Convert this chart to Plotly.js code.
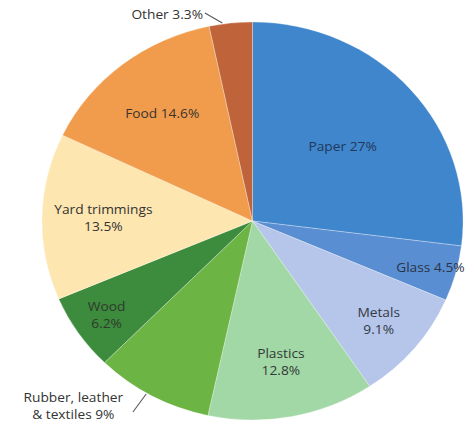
<!DOCTYPE html>
<html>
<head>
<meta charset="utf-8">
<script src="https://cdn.plot.ly/plotly-3.0.1.min.js"></script>
<style>
  html, body { margin: 0; padding: 0; background: #ffffff; overflow: hidden; }
  #chart { width: 467px; height: 423px; transform: scaleX(1.058); transform-origin: 252.5px 0; }
</style>
</head>
<body>
<div id="chart"></div>
<script>
// Data (clockwise from 12 o'clock)
const categories = ["Paper", "Glass", "Metals", "Plastics", "Rubber, leather<br>& textiles", "Wood", "Yard trimmings", "Food", "Other"];
const shares = [27, 4.5, 9.1, 12.8, 9, 6.2, 13.5, 14.6, 3.3];
const labelBreaks = [" ", " ", "<br>", "<br>", " ", "<br>", "<br>", " ", " "];
const outsideLabel = [false, false, false, false, true, false, false, false, true];

const sliceColors = ["#3f86cc", "#5a8ed2", "#b6c5ea", "#a2d7a6", "#6cb443", "#3d8b3d", "#fde6b0", "#f09c4c", "#bf633b"];
const textColors = ["#22385a", "#2a3446", "#333a44", "#333a36", "#333333", "#2f3a2c", "#333333", "#3a3430", "#333333"];

const labelTexts = categories.map((c, i) => c + labelBreaks[i] + shares[i] + "%");
const insideTexts = labelTexts.map((t, i) => outsideLabel[i] ? "" : t);

const W = 467, H = 423;
const FONT = "'Open Sans', sans-serif";
const FS = 13;

const trace = {
  type: "pie",
  values: shares,
  labels: categories,
  text: insideTexts,
  textinfo: "text",
  textposition: "inside",
  insidetextorientation: "horizontal",
  sort: false,
  direction: "clockwise",
  rotation: 0,
  hoverinfo: "none",
  marker: { colors: sliceColors, line: { color: "rgba(255,255,255,0.35)", width: 0.8 } },
  textfont: { family: FONT, size: FS, color: textColors },
  insidetextfont: { family: FONT, size: FS, color: textColors },
  domain: { x: [53.5 / W, 451.5 / W], y: [3 / H, 401 / H] },
  showlegend: false
};

// Outside labels (Other, Rubber) with leader lines
const annotations = [];
const shapes = [];
const px = v => v / W, py = v => (H - v) / H;
categories.forEach((c, i) => {
  if (!outsideLabel[i]) return;
  if (c === "Other") {
    annotations.push({ xref: "paper", yref: "paper", x: px(172), y: py(14), text: labelTexts[i], showarrow: false,
      font: { family: FONT, size: FS, color: "#333333" }, xanchor: "center", yanchor: "middle" });
    shapes.push({ type: "line", xref: "paper", yref: "paper", x0: px(207.5), y0: py(13), x1: px(224), y1: py(23), line: { color: "#555555", width: 1 } });
  } else {
    annotations.push({ xref: "paper", yref: "paper", x: px(83), y: py(405), text: labelTexts[i], showarrow: false,
      font: { family: FONT, size: FS, color: "#333333" }, xanchor: "center", yanchor: "middle", align: "center" });
    shapes.push({ type: "line", xref: "paper", yref: "paper", x0: px(139.5), y0: py(412), x1: px(152), y1: py(394), line: { color: "#555555", width: 1 } });
  }
});

const layout = {
  width: W, height: H,
  margin: { l: 0, r: 0, t: 0, b: 0 },
  paper_bgcolor: "#ffffff",
  showlegend: false,
  uniformtext: { mode: "show", minsize: FS },
  annotations: annotations,
  shapes: shapes
};

Plotly.newPlot("chart", [trace], layout, { displayModeBar: false, staticPlot: true });
</script>
</body>
</html>
